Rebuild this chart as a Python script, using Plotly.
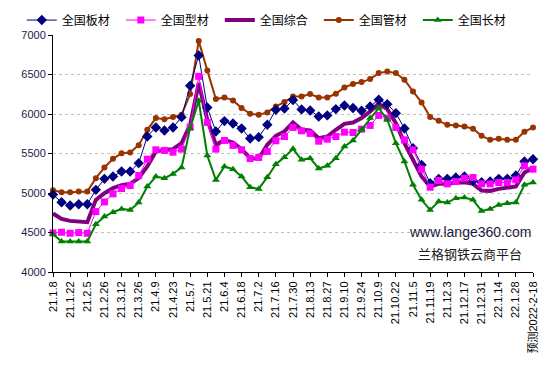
import plotly.graph_objects as go

dates = ["21.1.8", "21.1.15", "21.1.22", "21.1.29", "21.2.5", "21.2.19", "21.2.26", "21.3.5",
         "21.3.12", "21.3.19", "21.3.26", "21.4.2", "21.4.9", "21.4.16", "21.4.23", "21.4.30",
         "21.5.7", "21.5.14", "21.5.21", "21.5.28", "21.6.4", "21.6.11", "21.6.18", "21.6.25",
         "21.7.2", "21.7.9", "21.7.16", "21.7.23", "21.7.30", "21.8.6", "21.8.13", "21.8.20",
         "21.8.27", "21.9.3", "21.9.10", "21.9.17", "21.9.24", "21.9.30", "21.10.9", "21.10.15",
         "21.10.22", "21.10.29", "21.11.5", "21.11.12", "21.11.19", "21.11.26", "21.12.3",
         "21.12.10", "21.12.17", "21.12.24", "21.12.31", "22.1.7", "22.1.14", "22.1.21",
         "22.1.28", "22.2.11", "预测2022-2-18"]

tick_labels = ["21.1.8", "21.1.22", "21.2.5", "21.2.26", "21.3.12", "21.3.26", "21.4.9", "21.4.23",
               "21.5.7", "21.5.21", "21.6.4", "21.6.18", "21.7.2", "21.7.16", "21.7.30", "21.8.13",
               "21.8.27", "21.9.10", "21.9.24", "21.10.9", "21.10.22", "21.11.5", "21.11.19",
               "21.12.3", "21.12.17", "21.12.31", "22.1.14", "22.1.28", "预测2022-2-18"]

plate = [4980, 4883, 4841, 4858, 4858, 5040, 5179, 5209, 5272, 5272,
         5378, 5716, 5830, 5792, 5830, 5960, 6358, 6742, 6083, 5779,
         5910, 5880, 5817, 5690, 5707, 5863, 6054, 6070, 6176, 6058,
         6045, 5969, 5982, 6062, 6108, 6075, 6041, 6096, 6180, 6125,
         6011, 5817, 5568, 5356, 5124, 5179, 5179, 5196, 5208, 5154,
         5137, 5145, 5179, 5179, 5221, 5399, 5428]

section = [4495, 4503, 4490, 4499, 4490, 4765, 4887, 4989, 5056, 5094,
           5221, 5428, 5547, 5538, 5517, 5555, 5834, 6476, 5893, 5555,
           5665, 5602, 5547, 5437, 5450, 5525, 5661, 5715, 5830, 5787,
           5754, 5656, 5682, 5715, 5770, 5766, 5808, 5855, 5982, 5948,
           5830, 5673, 5547, 5302, 5073, 5158, 5116, 5145, 5187, 5196,
           5116, 5116, 5133, 5133, 5166, 5344, 5302]

composite = [4740, 4672, 4647, 4642, 4630, 4913, 4997, 5061, 5099, 5116,
             5188, 5335, 5525, 5547, 5555, 5631, 5863, 6392, 5927, 5610,
             5673, 5640, 5555, 5441, 5433, 5610, 5724, 5779, 5893, 5800,
             5792, 5694, 5715, 5800, 5876, 5893, 5948, 6032, 6130, 6062,
             5885, 5631, 5420, 5209, 5082, 5116, 5116, 5133, 5137, 5116,
             5031, 5027, 5052, 5073, 5082, 5259, 5314]

pipe = [5035, 5010, 5010, 5018, 5018, 5188, 5323, 5432, 5504, 5513,
        5606, 5800, 5948, 5935, 5961, 5990, 6252, 6924, 6552, 6189,
        6210, 6172, 6075, 6003, 5990, 6020, 6096, 6151, 6223, 6223,
        6252, 6210, 6210, 6256, 6337, 6379, 6404, 6442, 6518, 6539,
        6518, 6434, 6286, 6147, 5961, 5914, 5863, 5855, 5842, 5813,
        5724, 5673, 5686, 5673, 5673, 5775, 5830]

long_prod = [4478, 4385, 4385, 4385, 4385, 4604, 4702, 4757, 4799, 4786,
             4879, 5082, 5209, 5187, 5242, 5323, 5821, 6168, 5475, 5166,
             5335, 5301, 5209, 5073, 5052, 5200, 5365, 5454, 5559, 5420,
             5441, 5310, 5344, 5441, 5589, 5665, 5800, 5948, 6075, 5927,
             5631, 5399, 5103, 4913, 4786, 4892, 4879, 4934, 4942, 4913,
             4773, 4799, 4849, 4871, 4879, 5103, 5133]

y_ticks = [4000, 4500, 5000, 5500, 6000, 6500, 7000]

CJK = "Noto Sans CJK SC"
LAT = "Liberation Sans, Arial, sans-serif"

fig = go.Figure()
fig.add_trace(go.Scatter(x=dates, y=composite, name="全国综合", mode="lines",
                         line=dict(color="#800080", width=4), legendrank=3, cliponaxis=False))
fig.add_trace(go.Scatter(x=dates, y=pipe, name="全国管材", mode="lines+markers",
                         line=dict(color="#993300", width=2),
                         marker=dict(symbol="circle", size=6, color="#993300"),
                         legendrank=4, cliponaxis=False))
fig.add_trace(go.Scatter(x=dates, y=plate, name="全国板材", mode="lines+markers",
                         line=dict(color="#000080", width=1),
                         marker=dict(symbol="diamond", size=8, color="#000080"),
                         legendrank=1, cliponaxis=False))
fig.add_trace(go.Scatter(x=dates, y=section, name="全国型材", mode="lines+markers",
                         line=dict(color="#FF00FF", width=1),
                         marker=dict(symbol="square", size=7, color="#FF00FF"),
                         legendrank=2, cliponaxis=False))
fig.add_trace(go.Scatter(x=dates, y=long_prod, name="全国长材", mode="lines+markers",
                         line=dict(color="#008000", width=2),
                         marker=dict(symbol="triangle-up", size=7, color="#008000"),
                         legendrank=5, cliponaxis=False))

fig.update_layout(
    width=546, height=357,
    margin=dict(l=44.5, r=20.7, t=27, b=93, pad=0, autoexpand=False),
    paper_bgcolor="white", plot_bgcolor="white",
    font=dict(family=LAT, size=11, color="#000000"),
    showlegend=True,
    legend=dict(orientation="h", xref="paper", yref="paper",
                x=-0.065, y=1.063, xanchor="left", yanchor="middle",
                entrywidth=54, entrywidthmode="pixels",
                font=dict(family=CJK, size=12, color="#000000"),
                itemwidth=30, bgcolor="rgba(0,0,0,0)",
                tracegroupgap=0, borderwidth=0),
    xaxis=dict(type="category", range=[0, len(dates) - 1], automargin=False,
               tickmode="array", tickvals=[d for d in dates if d in tick_labels],
               ticktext=tick_labels, tickangle=-90,
               showline=True, linecolor="#000000", linewidth=1,
               ticks="outside", ticklen=4, tickcolor="#000000",
               showgrid=False, zeroline=False,
               tickfont=dict(family=LAT + ", " + CJK, size=11, color="#000000")),
    yaxis=dict(range=[4000, 7000], tickvals=y_ticks, automargin=False,
               showline=True, linecolor="#000000", linewidth=1,
               ticks="outside", ticklen=4, tickcolor="#000000",
               showgrid=True, gridcolor="#bfbfbf", griddash="dot", gridwidth=1,
               zeroline=False,
               tickfont=dict(family=LAT, size=11, color="#1a1a4a")),
    annotations=[
        dict(text="www.lange360.com", xref="paper", yref="paper", x=0.868, y=0.169,
             xanchor="center", yanchor="middle",
             showarrow=False, font=dict(family=LAT, size=14, color="#1a1a3a")),
        dict(text="兰格钢铁云商平台", xref="paper", yref="paper", x=0.868, y=0.078,
             xanchor="center", yanchor="middle",
             showarrow=False, font=dict(family=CJK, size=13, color="#1a1a1a")),
    ],
)

fig.write_html("out.html")
